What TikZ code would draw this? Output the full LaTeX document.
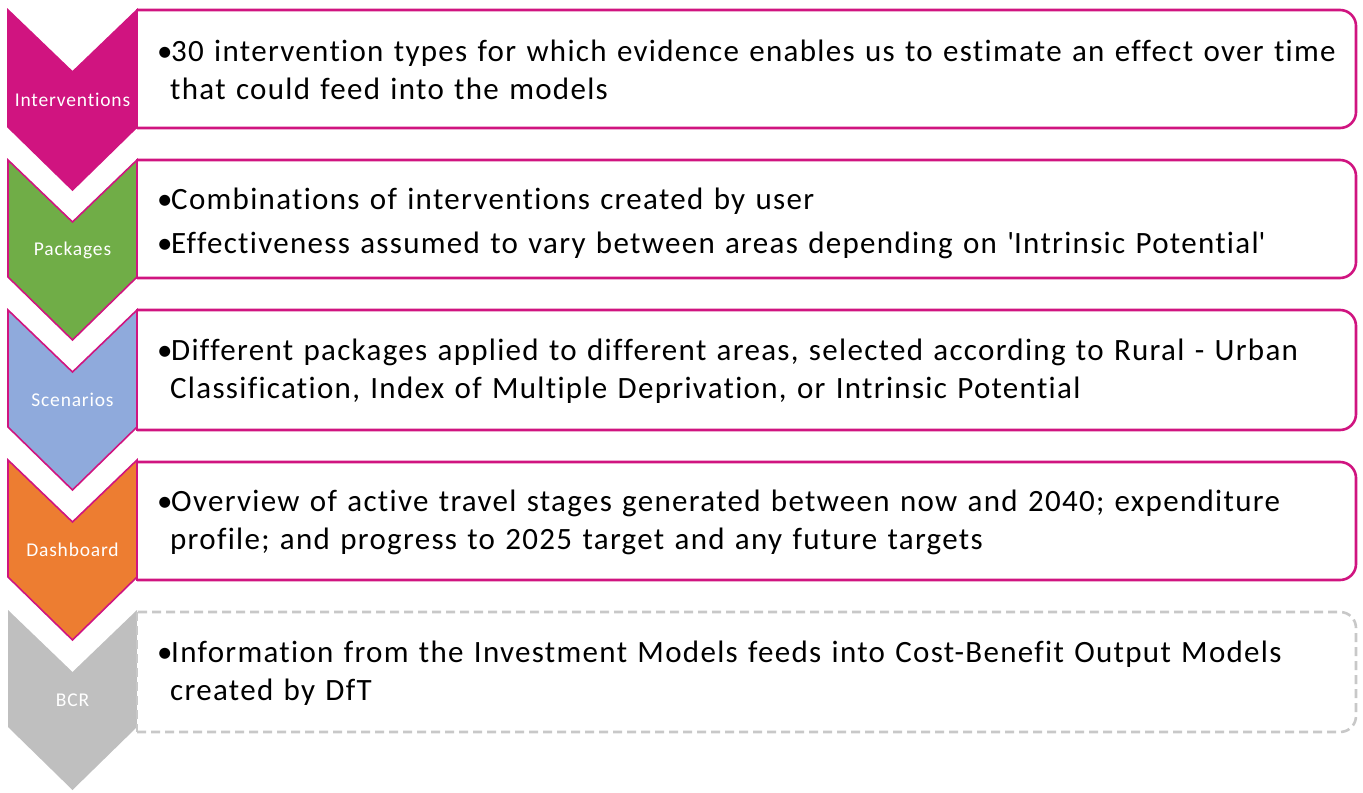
\documentclass[tikz,border=0pt]{standalone}
\usepackage{fontspec}
\setmainfont{Carlito}
\newfontfamily\bodyfont{Carlito}[LetterSpace=4.2, Ligatures={NoCommon}]
\definecolor{mag}{RGB}{208,20,128}
\definecolor{cgreen}{RGB}{112,173,71}
\definecolor{cblue}{RGB}{143,170,220}
\definecolor{corange}{RGB}{237,125,49}
\definecolor{cgray}{RGB}{191,191,191}
\definecolor{cdash}{RGB}{200,200,200}
% one bullet paragraph with the second line hung under the text, no hyphenation
\newcommand\bitem[1]{\par\hyphenpenalty=10000\exhyphenpenalty=10000
  \hangindent=12bp\hangafter=1\noindent\makebox[13bp][l]{\kern-1bp•}#1\par}
\tikzset{
  chevron/.style={line width=1.6bp, line join=miter},
  infobox/.style={line width=2.6bp, draw=mag, fill=white},
  dashbox/.style={line width=2.6bp, draw=cdash, fill=white, dash pattern=on 9bp off 5bp},
  steplabel/.style={text=white, inner sep=0, font=\bodyfont\fontsize{19.5bp}{22bp}\selectfont},
  bodytext/.style={anchor=west, inner sep=0, text width=1190bp, align=left,
    font=\bodyfont\fontsize{31bp}{38bp}\selectfont}
}
\begin{document}
\begin{tikzpicture}[x=1bp, y=-1bp]
\useasboundingbox (0,0) rectangle (1363,792);

% chevrons: top y, fill, outline, label, name
\foreach \t/\f/\d/\l/\nm in {10/mag/mag/Interventions/interv,
                             160/cgreen/mag/Packages/pack,
                             310/cblue/mag/Scenarios/scen,
                             460/corange/mag/Dashboard/dash,
                             610/cgray/none/BCR/bcr}{
  \path[chevron, fill=\f, draw=\d]
    (8,\t) -- (72.5,\t+62) -- (137,\t) -- (137,\t+117) -- (72.5,\t+180) -- (8,\t+117) -- cycle;
  \node[steplabel] (\nm) at (72.5,\t+90) {\l};
}

% text boxes, square on the left, rounded on the right
\foreach \t/\b in {10/128, 160/278, 310/430, 462/580}{
  \draw[infobox, rounded corners=16bp] (137,\b) -- (1356,\b) -- (1356,\t) -- (137,\t);
  \draw[infobox, line cap=rect] (137,\t) -- (137,\b);
}
\draw[dashbox, rounded corners=16bp] (137,732) -- (1356,732) -- (1356,612) -- (137,612);
\draw[dashbox] (137,612) -- (137,732);

\node[bodytext] (t1) at (158,62) {\bitem{30 intervention types for which evidence enables us to estimate an effect over time that could feed into the models}};
\node[bodytext] (t2) at (158,212) {\setlength\parskip{6bp}\bitem{Combinations of interventions created by user}\bitem{Effectiveness assumed to vary between areas depending on \textquotesingle Intrinsic Potential\textquotesingle}};
\node[bodytext] (t3) at (158,363) {\bitem{Different packages applied to different areas, selected according to Rural - Urban Classification, Index of Multiple Deprivation, or Intrinsic Potential}};
\node[bodytext] (t4) at (158,514) {\bitem{Overview of active travel stages generated between now and 2040; expenditure profile; and progress to 2025 target and any future targets}};
\node[bodytext] (t5) at (158,665) {\bitem{Information from the Investment Models feeds into Cost-Benefit Output Models created by DfT}};
\end{tikzpicture}
\end{document}
